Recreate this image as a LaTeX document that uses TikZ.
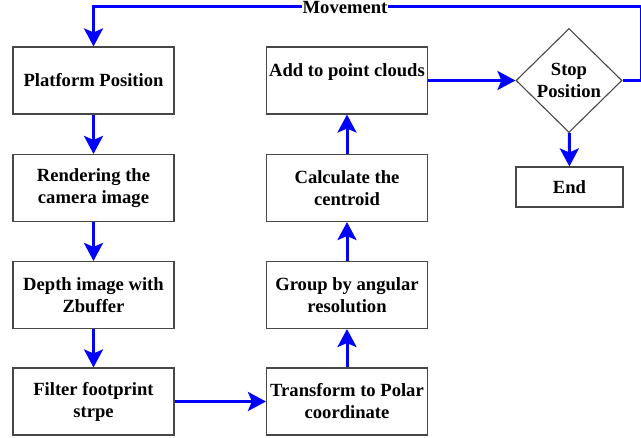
\documentclass[tikz,border=0pt]{standalone}
\usepackage{fontspec}
\setmainfont{Liberation Serif}
\usetikzlibrary{arrows.meta,shapes.geometric}
\begin{document}
\begin{tikzpicture}[x=1pt,y=-1pt,
  txt/.style={font=\fontsize{18.6}{22}\selectfont\bfseries,align=center},
  box/.style={txt,draw=black!72,line width=1.1pt,minimum width=161pt,minimum height=67pt,inner sep=1pt},
  endbox/.style={txt,draw=black!72,line width=1.1pt,minimum width=107pt,minimum height=40pt,inner sep=1pt},
  dia/.style={txt,draw=black!72,line width=1.1pt,shape=diamond,minimum width=106pt,minimum height=104pt,inner sep=0pt},
  flow/.style={draw=blue,line width=3pt,-{Stealth[length=18pt,width=19pt,inset=4pt]}}]
\useasboundingbox[fill=white] (0,0) rectangle (641,438);
\node[box] (pp) at (93.5,80.5) {Platform Position};
\node[box] (rc) at (93.5,188) {Rendering the\\camera image};
\node[box] (di) at (93.5,295) {Depth image with\\Zbuffer};
\node[box] (ff) at (93.5,401.5) {Filter footprint\\strpe};
\node[box] (tp) at (347,401.5) {Transform to Polar\\coordinate};
\node[box] (gr) at (347,295) {Group by angular\\resolution};
\node[box] (cc) at (347,188) {Calculate the\\centroid};
\node[box] (ap) at (347,80.5) {\smash{\raisebox{3.5pt}{Add to point clouds}}};
\node[dia] (stop) at (569,80.5) {Stop\\Position};
\node[endbox] (end) at (569.5,187) {End};
\coordinate (c1) at (641,80.5);
\coordinate (c2) at (93.5,7);
\draw[flow] (pp) -- (rc);
\draw[flow] (rc) -- (di);
\draw[flow] (di) -- (ff);
\draw[flow] (ff) -- (tp);
\draw[flow] (tp) -- (gr);
\draw[flow] (gr) -- (cc);
\draw[flow] (cc) -- (ap);
\draw[flow] (ap.east) -- (stop.west);
\draw[flow] (stop) -- (end);
\draw[flow] (stop.east) -- (c1) |- (c2) -- (pp.north);
\node[txt,fill=white,inner sep=1pt] (mv) at (345,8) {Movement};
\end{tikzpicture}
\end{document}
